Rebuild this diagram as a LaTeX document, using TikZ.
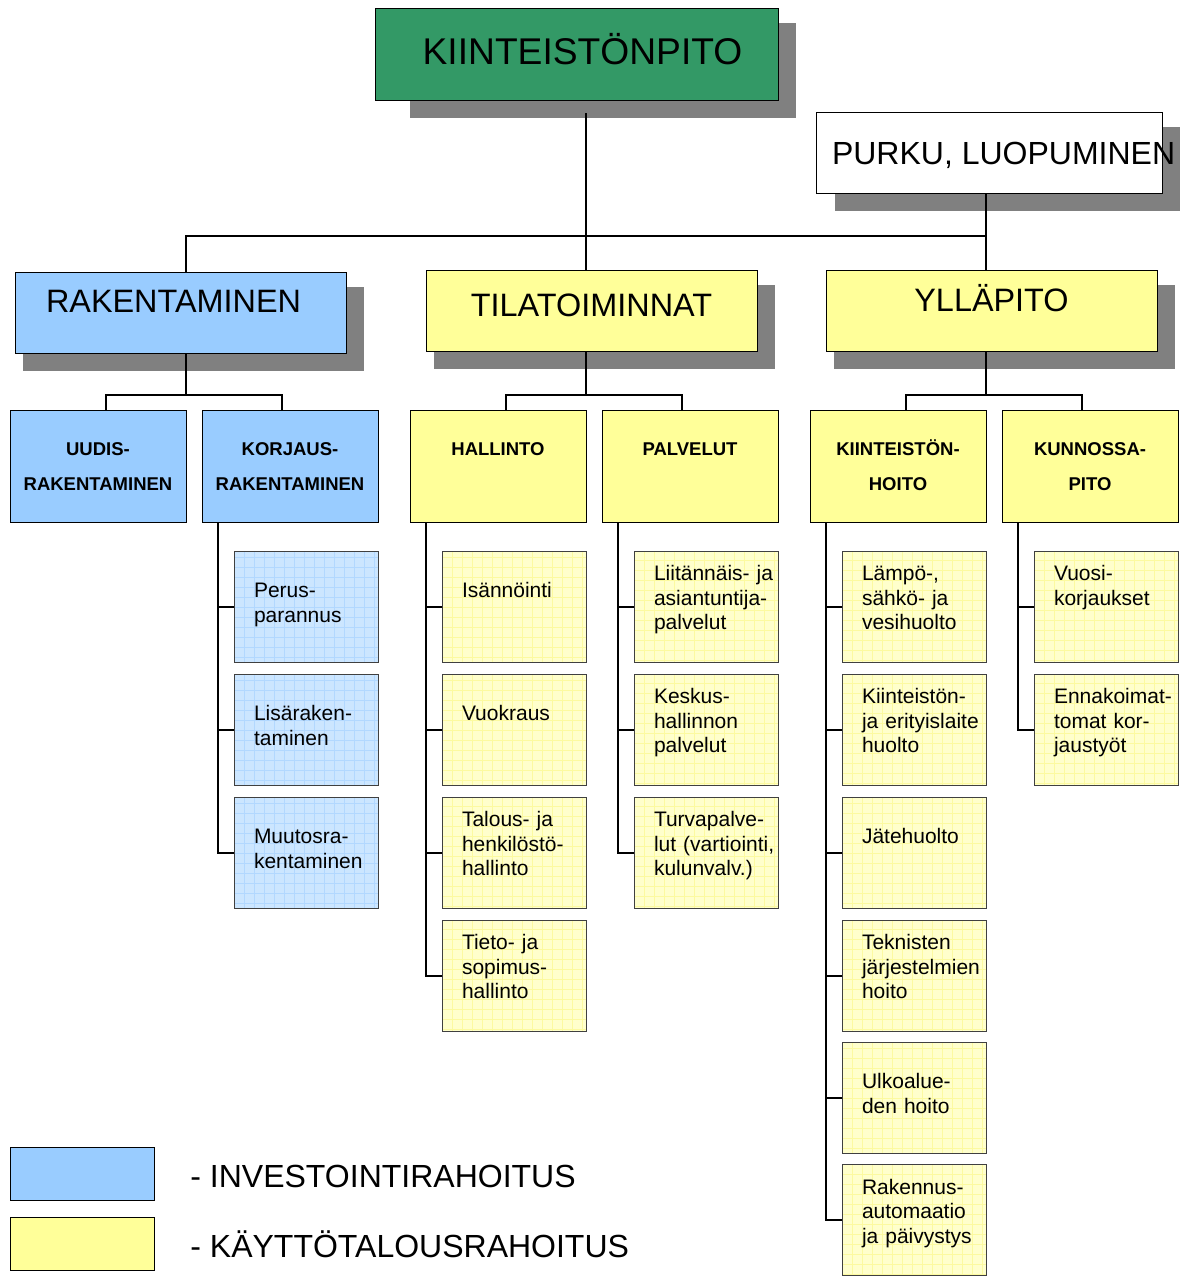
\documentclass[tikz,border=0pt]{standalone}
\usepackage{fontspec}
\setmainfont{Liberation Sans}
\usetikzlibrary{calc}
\usetikzlibrary{backgrounds}
\definecolor{kgreen}{RGB}{51,153,102}
\definecolor{rblue}{RGB}{153,204,255}
\definecolor{tyellow}{RGB}{255,255,153}
\definecolor{shadowgray}{RGB}{128,128,128}
\definecolor{lblue}{RGB}{204,230,255}
\definecolor{lbluegrid}{RGB}{178,216,255}
\definecolor{lyellow}{RGB}{255,255,204}
\definecolor{lyellowgrid}{RGB}{252,250,160}
\newcommand{\drawShadow}[2]{
	\fill[shadowgray] ($(#1.south west)+(#2,17)$) rectangle ($(#1.north east)+(17,15)$) ;
}
\newcommand{\noHyph}{\hyphenpenalty=10000 \exhyphenpenalty=10000 }
\tikzset{
	box/.style={draw=black, line width=0.5pt, inner sep=0pt},
	title/.style={box, minimum width=165.5pt, minimum height=40.5pt,
		font=\fontsize{16.2}{19}\selectfont, text height=12pt, text depth=12pt},
	sub/.style={box, minimum width=88pt, minimum height=55.5pt, text width=88pt, align=center,
		font=\fontsize{9.25}{17.5}\selectfont\bfseries, text height=7pt, text depth=17.9pt},
	leafgrid/.style={path picture={\draw[#1, line width=0.3pt]
		(path picture bounding box.south west) grid[step=5pt] (path picture bounding box.north east);}},
	leaf/.style={draw=black!75, line width=0.5pt, inner sep=0pt, minimum width=72pt,
		minimum height=55.5pt, text width=52pt, align=left,
		font=\fontsize{10.5}{12.25}\selectfont, execute at begin node=\noHyph,
		text height=8pt, text depth=17pt},
	leafhi/.style={text depth=34pt},
	bleaf/.style={leaf, fill=lblue, leafgrid=lbluegrid},
	yleaf/.style={leaf, fill=lyellow, leafgrid=lyellowgrid},
	link/.style={line width=1pt},
	legtext/.style={anchor=base west, inner sep=0pt, font=\fontsize{16}{19}\selectfont}
}
\begin{document}
\begin{tikzpicture}[x=0.5pt, y=-0.5pt]
\useasboundingbox (0,0) rectangle (1190,1277);

%Top level
\node[box, fill=kgreen, minimum width=201.5pt, minimum height=46pt,
	font=\fontsize{18.6}{22}\selectfont, text height=14pt, text depth=4pt]
	(top) at (576.5,55) {\hspace*{6pt}KIINTEISTÖNPITO};
\node[box, fill=white, minimum width=173pt, minimum height=40.5pt, inner xsep=8pt,
	font=\fontsize{16}{19}\selectfont, text height=12pt, text depth=1.2pt]
	(purku) at (989,153.5) {\makebox[157pt][l]{PURKU, LUOPUMINEN}};

%Main areas
\node[title, fill=rblue, text depth=13pt] (rak) at (180.5,313.5) {\makebox[134.5pt][l]{RAKENTAMINEN}};
\node[title, fill=tyellow, text depth=7pt] (tila) at (591.5,311.5) {TILATOIMINNAT};
\node[title, fill=tyellow] (yll) at (991.5,311.5) {YLLÄPITO};

%Second level
\node[sub, fill=rblue] (uud) at (98,466.5) {UUDIS-\\RAKENTAMINEN};
\node[sub, fill=rblue] (kor) at (290,466.5) {KORJAUS-\\RAKENTAMINEN};
\node[sub, fill=tyellow] (hal) at (498,466.5) {HALLINTO};
\node[sub, fill=tyellow] (pal) at (690,466.5) {PALVELUT};
\node[sub, fill=tyellow] (kho) at (898,466.5) {KIINTEISTÖN-\\HOITO};
\node[sub, fill=tyellow] (kun) at (1090,466.5) {KUNNOSSA-\\PITO};

%Leaves
\node[bleaf] (kor1) at (306,606.5) {Perus-\\parannus};
\node[bleaf] (kor2) at (306,729.5) {Lisäraken-\\taminen};
\node[bleaf] (kor3) at (306,852.5) {Muutosra-\\kentaminen};

\node[yleaf] (hal1) at (514,606.5) {Isännöinti};
\node[yleaf] (hal2) at (514,729.5) {Vuokraus};
\node[yleaf, leafhi] (hal3) at (514,852.5) {Talous-~ja\\henkilöstö-\\hallinto};
\node[yleaf, leafhi] (hal4) at (514,975.5) {Tieto-~ja\\sopimus-\\hallinto};

\node[yleaf, leafhi] (pal1) at (706,606.5) {Liitännäis-~ja\\asiantuntija-\\palvelut};
\node[yleaf, leafhi] (pal2) at (706,729.5) {Keskus-\\hallinnon\\palvelut};
\node[yleaf, leafhi] (pal3) at (706,852.5) {Turvapalve-\\lut~(vartiointi,\\kulunvalv.)};

\node[yleaf, leafhi] (kho1) at (914,606.5) {Lämpö-,\\sähkö-~ja\\vesihuolto};
\node[yleaf, leafhi] (kho2) at (914,729.5) {Kiinteistön-\\ja~erityislaite\\huolto};
\node[yleaf] (kho3) at (914,852.5) {Jätehuolto};
\node[yleaf, leafhi] (kho4) at (914,975.5) {Teknisten\\järjestelmien\\hoito};
\node[yleaf] (kho5) at (914,1097.5) {Ulkoalue-\\den~hoito};
\node[yleaf, leafhi] (kho6) at (914,1220) {Rakennus-\\automaatio\\ja~päivystys};

\node[yleaf, leafhi] (kun1) at (1106,606.5) {Vuosi-\\korjaukset};
\node[yleaf, leafhi] (kun2) at (1106,729.5) {Ennakoimat-\\tomat~kor-\\jaustyöt};

%Shadows
\begin{pgfonlayer}{background}
\drawShadow{top}{35}
\drawShadow{purku}{19}
\drawShadow{rak}{8}
\drawShadow{tila}{8}
\drawShadow{yll}{8}
\end{pgfonlayer}

%Connectors
\coordinate (top-bus) at (586,236);
\coordinate (rak-bus) at (186,395);
\coordinate (tila-bus) at (586,395);
\coordinate (yll-bus) at (986,395);
\draw[link] ($(top-bus |- top.south)+(0,12)$) -- (top-bus) -- (top-bus |- tila.north);
\draw[link] (rak-bus |- rak.north) |- (top-bus) -| (yll-bus |- yll.north);
\draw[link] (yll-bus |- purku.south) -- (yll-bus |- top-bus);

\draw[link] (rak-bus |- rak.south) -- (rak-bus);
\draw[link] ([xshift=4pt]uud.north) |- (rak-bus) -| ([xshift=-4pt]kor.north);
\draw[link] (tila-bus |- tila.south) -- (tila-bus);
\draw[link] ([xshift=4pt]hal.north) |- (tila-bus) -| ([xshift=-4pt]pal.north);
\draw[link] (yll-bus |- yll.south) -- (yll-bus);
\draw[link] ([xshift=4pt]kho.north) |- (yll-bus) -| ([xshift=-4pt]kun.north);

	\foreach \p/\n in {kor/3, hal/4, pal/3, kho/6, kun/2}
	{
		\foreach \i in {1,...,\n}
			\draw[link] ([xshift=8pt]\p.south west) |- (\p\i.west);
	}

%Legend
\node[box, fill=rblue, minimum width=72pt, minimum height=26.5pt] (legInv) at (82,1173.5) {};
\node[box, fill=tyellow, minimum width=72pt, minimum height=26.5pt] (legKay) at (82,1243.5) {};
\node[legtext] (legInvT) at (190,1187) {- INVESTOINTIRAHOITUS};
\node[legtext] (legKayT) at (190,1257) {- KÄYTTÖTALOUSRAHOITUS};
\end{tikzpicture}
\end{document}
